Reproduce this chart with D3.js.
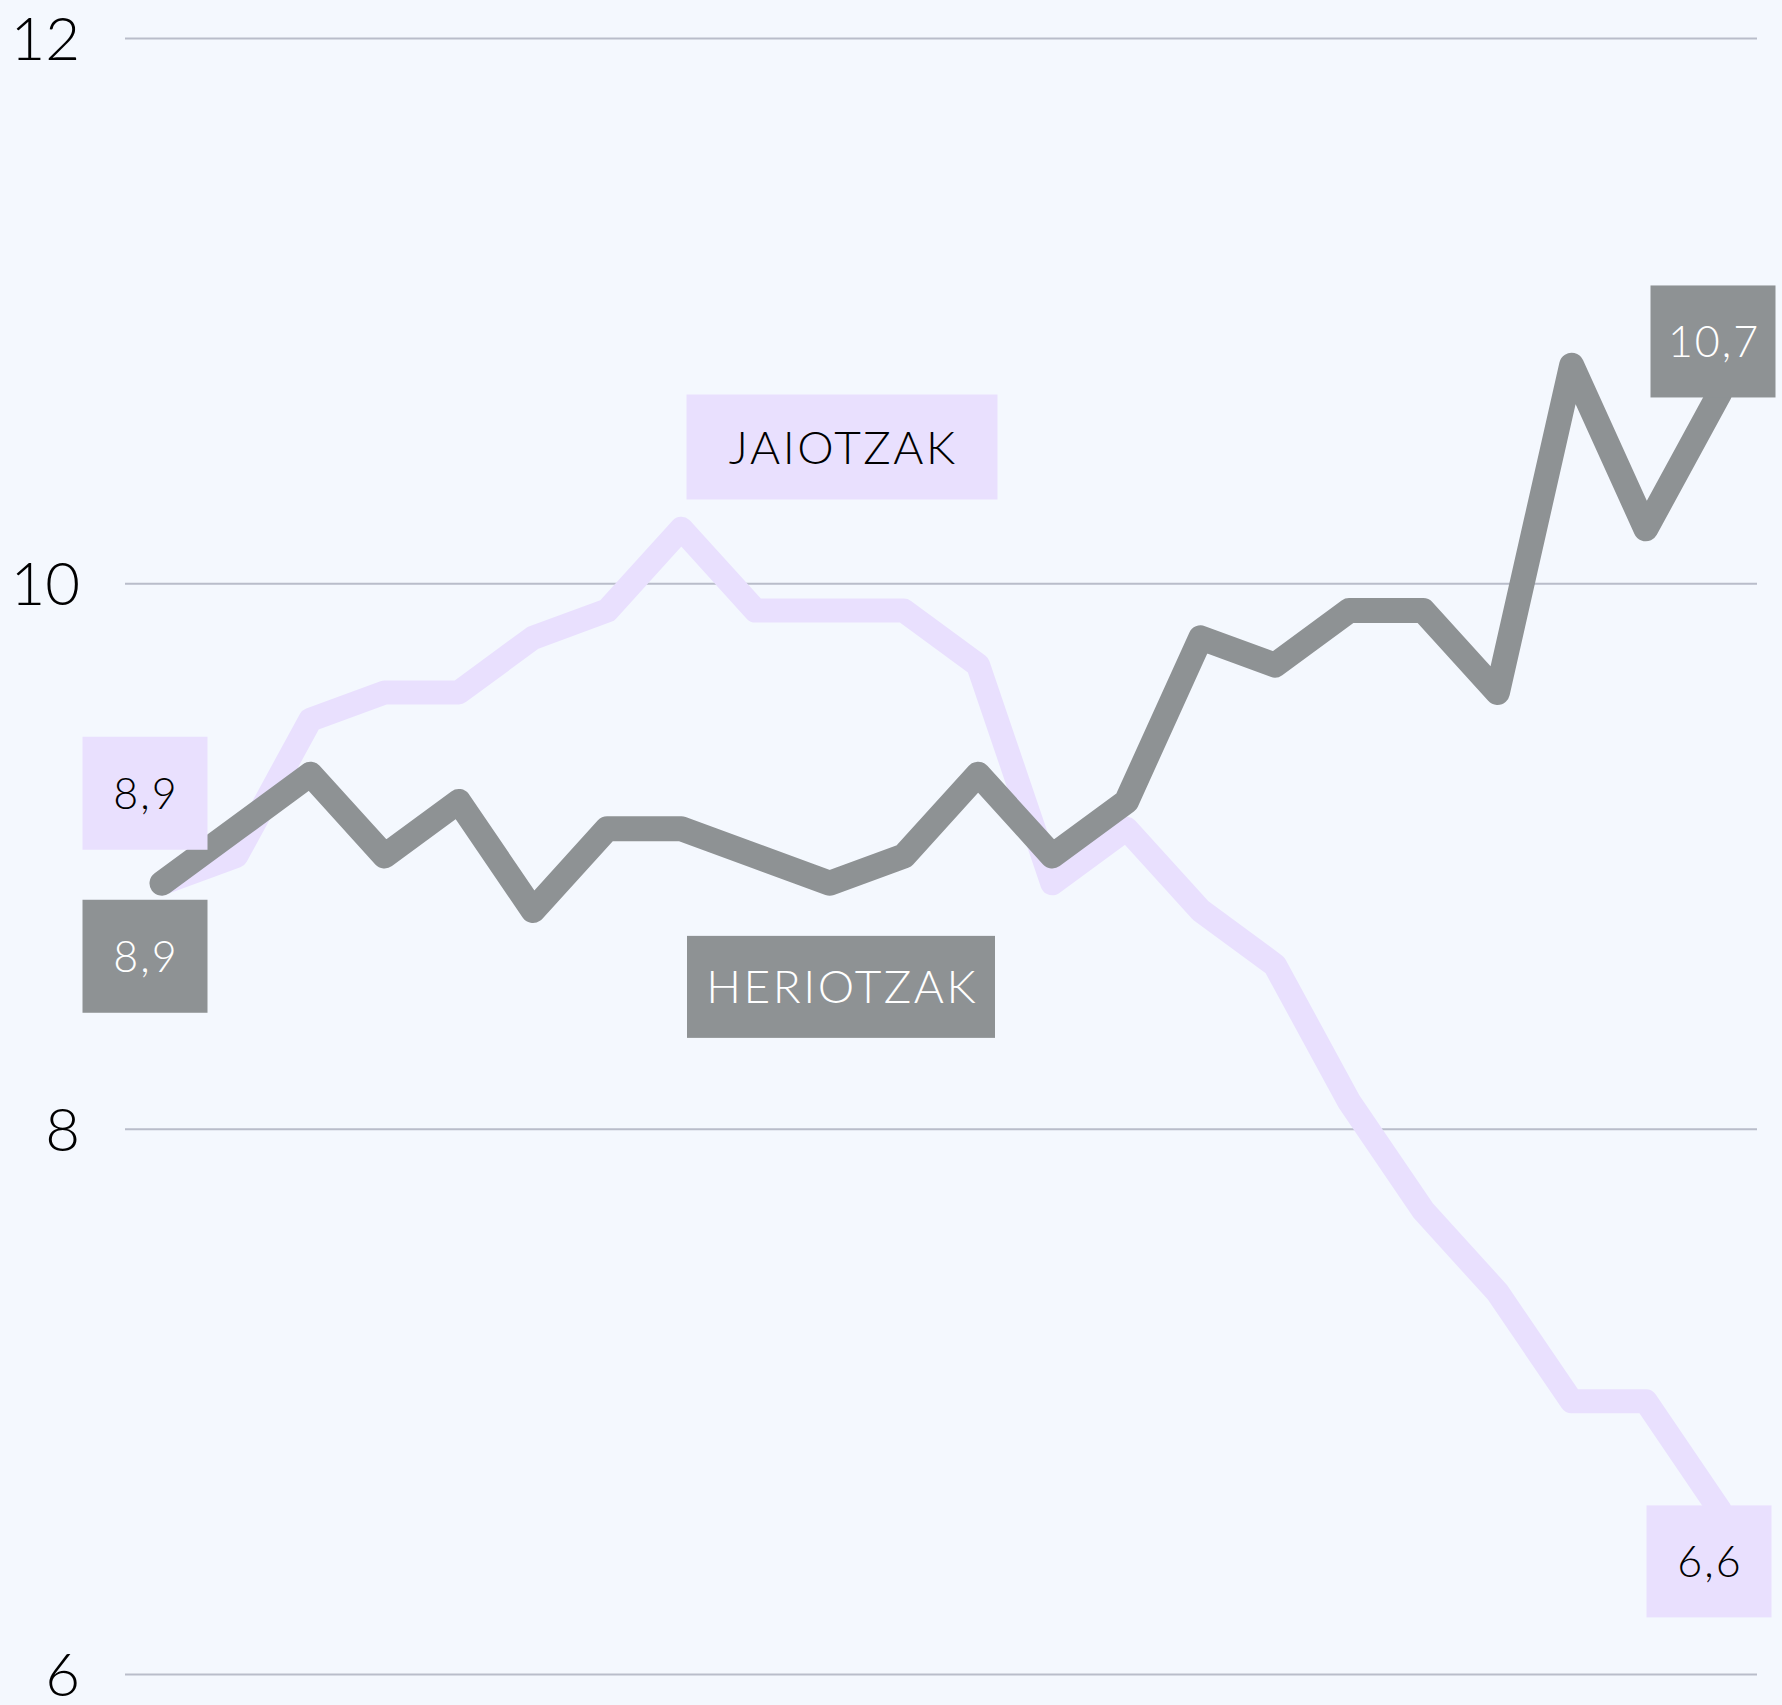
<!DOCTYPE html>
<html>
<head>
<meta charset="utf-8">
<script src="https://cdn.jsdelivr.net/npm/d3@7"></script>
<style>
  html, body { margin: 0; padding: 0; background: #f4f8fe; }
  svg { display: block; }
  text { font-family: "Lato", "Open Sans", sans-serif; font-weight: 300; }
</style>
</head>
<body>
<div class="chart"></div>
<script>
var years = [2001, 2002, 2003, 2004, 2005, 2006, 2007, 2008, 2009, 2010, 2011,
             2012, 2013, 2014, 2015, 2016, 2017, 2018, 2019, 2020, 2021, 2022];
// jaiotzak (births per 1000)
var births = [8.9, 9.0, 9.5, 9.6, 9.6, 9.8, 9.9, 10.2, 9.9, 9.9, 9.9,
              9.7, 8.9, 9.1, 8.8, 8.6, 8.1, 7.7, 7.4, 7.0, 7.0, 6.6];
// heriotzak (deaths per 1000)
var deaths = [8.9, 9.1, 9.3, 9.0, 9.2, 8.8, 9.1, 9.1, 9.0, 8.9, 9.0,
              9.3, 9.0, 9.2, 9.8, 9.7, 9.9, 9.9, 9.6, 10.8, 10.2, 10.7];
var yTicks = [6, 8, 10, 12];
var seriesNames = ["JAIOTZAK", "HERIOTZAK"];

var width = 1782, height = 1705;
var pink = "#e9e0fe", grey = "#8e9294";

var svg = d3.select(".chart").append("svg")
  .attr("width", width)
  .attr("height", height);

var x = d3.scalePoint().domain(years).range([162, 1720]);
var y = d3.scaleLinear().domain([6, 12]).range([1674, 38]);

var fmt = function(v) { return d3.format(".1f")(v).replace(".", ","); };

// grid + tick labels
var axis = svg.append("g")
  .attr("transform", "translate(125,0)")
  .call(d3.axisLeft(y).tickValues(yTicks).tickSize(-(1757 - 125)).tickPadding(45).tickFormat(d3.format("d")));
axis.select(".domain").remove();
axis.selectAll(".tick line").attr("stroke", "#b9bdca").attr("stroke-width", 2);
axis.selectAll(".tick text")
  .attr("fill", "#000")
  .attr("font-size", 60)
  .attr("dy", "0.36em")
  .style("font-family", "Lato, 'Open Sans', sans-serif")
  .style("font-weight", 300);

var line = d3.line()
  .x(function(d, i) { return x(years[i]); })
  .y(function(d) { return y(d); });

svg.append("path")
  .datum(births)
  .attr("d", line)
  .attr("fill", "none")
  .attr("stroke", pink)
  .attr("stroke-width", 24)
  .attr("stroke-linejoin", "round")
  .attr("stroke-linecap", "round");

svg.append("path")
  .datum(deaths)
  .attr("d", line)
  .attr("fill", "none")
  .attr("stroke", grey)
  .attr("stroke-width", 25)
  .attr("stroke-linejoin", "round")
  .attr("stroke-linecap", "round");

function box(cx, cy, w, h, fill, color, label, size, spacing) {
  var g = svg.append("g");
  g.append("rect")
    .attr("x", cx - w / 2).attr("y", cy - h / 2)
    .attr("width", w).attr("height", h)
    .attr("fill", fill);
  g.append("text")
    .attr("x", cx + spacing / 2).attr("y", cy)
    .attr("text-anchor", "middle")
    .attr("dy", "0.36em")
    .attr("font-size", size)
    .attr("letter-spacing", spacing)
    .attr("fill", color)
    .text(label);
}

var first = years[0], last = years[years.length - 1];
var nb = births.length - 1, nd = deaths.length - 1;
box(x(first) - 17, y(births[0]) - 90, 125, 113, pink, "#000", fmt(births[0]), 43, 2);
box(x(first) - 17, y(deaths[0]) + 73, 125, 113, grey, "#fff", fmt(deaths[0]), 43, 2);
box(x(last) - 7, y(deaths[nd]) - 51, 125, 112, grey, "#fff", fmt(deaths[nd]), 43, 2);
box(x(last) - 11, y(births[nb]) + 51, 125, 112, pink, "#000", fmt(births[nb]), 43, 2);

// series name tags
box(842, y(10.5), 311, 105, pink, "#000", seriesNames[0], 46, 2.5);
box(841, y(8.52), 308, 102, grey, "#fff", seriesNames[1], 46, 2.5);
</script>
</body>
</html>
